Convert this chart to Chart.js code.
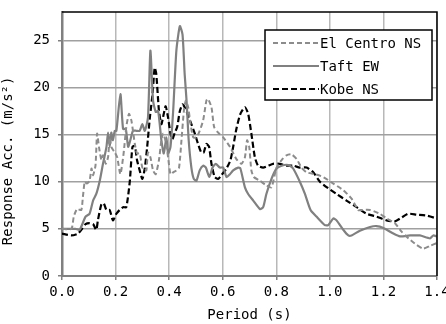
<!DOCTYPE html>
<html><head><meta charset="utf-8">
<script src="https://cdn.jsdelivr.net/npm/chart.js@4/dist/chart.umd.min.js"></script>
<style>html,body{margin:0;padding:0;background:#fff;}#wrap{width:446px;height:324px;}</style>
</head><body><div id="wrap"><canvas id="c" width="446" height="324"></canvas></div>
<script>
const seriesLabels = ["El Centro NS", "Taft EW", "Kobe NS"];
const xTickValues = [0.0, 0.2, 0.4, 0.6, 0.8, 1.0, 1.2, 1.4];
const yTickValues = [0, 5, 10, 15, 20, 25];
const elPeriod = [0.0,0.035,0.044,0.056,0.072,0.078,0.085,0.093,0.103,0.11,0.116,0.125,0.131,0.138,0.147,0.153,0.163,0.172,0.178,0.184,0.197,0.206,0.218,0.23,0.24,0.25,0.259,0.272,0.28,0.29,0.30,0.309,0.315,0.321,0.33,0.34,0.35,0.362,0.371,0.377,0.386,0.396,0.405,0.415,0.427,0.437,0.446,0.455,0.462,0.471,0.48,0.49,0.502,0.514,0.527,0.539,0.545,0.558,0.568,0.583,0.602,0.627,0.651,0.67,0.683,0.691,0.699,0.707,0.716,0.739,0.763,0.782,0.801,0.82,0.838,0.857,0.876,0.894,0.913,0.944,0.975,1.013,1.05,1.081,1.106,1.118,1.15,1.187,1.212,1.243,1.268,1.293,1.324,1.349,1.374,1.4];
const elAcc = [5.0,5.0,6.3,7.1,7.0,8.4,10.0,9.8,10.1,11.4,10.7,11.7,15.1,13.7,12.3,12.8,11.9,12.6,14.7,13.7,13.1,12.6,10.8,13.0,15.8,17.2,16.5,14.0,13.0,13.0,11.5,11.5,11.2,13.1,12.6,11.2,10.8,12.3,14.4,15.1,14.4,12.6,10.8,11.0,11.2,11.5,14.4,17.5,18.6,17.9,16.1,14.7,14.7,15.4,16.5,18.6,18.8,17.9,15.8,15.2,14.7,13.7,12.4,11.9,12.6,14.4,13.7,11.2,10.5,10.1,9.6,9.4,11.5,12.3,12.8,12.9,12.4,11.5,11.0,10.8,10.5,9.8,9.1,8.2,7.0,7.0,7.0,6.6,6.1,5.6,4.7,4.0,3.3,2.9,3.2,3.5];
const taftPeriod = [0.0,0.05,0.066,0.088,0.103,0.116,0.128,0.141,0.153,0.166,0.172,0.178,0.184,0.19,0.197,0.203,0.218,0.228,0.238,0.247,0.255,0.265,0.278,0.29,0.30,0.309,0.321,0.33,0.34,0.35,0.359,0.371,0.38,0.39,0.396,0.405,0.415,0.427,0.44,0.45,0.458,0.465,0.473,0.483,0.492,0.502,0.514,0.527,0.537,0.55,0.562,0.574,0.589,0.602,0.614,0.627,0.639,0.658,0.666,0.683,0.695,0.714,0.739,0.751,0.763,0.782,0.801,0.82,0.838,0.851,0.863,0.888,0.907,0.928,0.95,0.981,0.994,1.013,1.025,1.05,1.069,1.081,1.112,1.15,1.174,1.2,1.237,1.262,1.3,1.336,1.374,1.386,1.4];
const taftAcc = [5.0,5.0,4.9,6.3,6.6,8.0,8.7,10.1,11.9,13.7,15.2,13.7,15.2,14.4,15.4,15.4,19.3,15.6,15.6,13.7,14.4,15.4,15.4,15.4,16.1,15.4,16.8,23.9,18.6,17.4,17.5,14.4,13.0,14.7,13.0,13.7,17.5,23.9,26.5,25.6,21.4,18.6,14.4,11.5,10.3,10.1,11.2,11.7,11.5,10.5,11.5,11.9,11.5,11.5,10.5,10.8,11.2,11.5,11.4,9.4,8.7,8.0,7.1,7.3,8.7,10.3,11.4,11.7,11.8,11.7,11.4,10.0,8.7,7.0,6.3,5.4,5.4,6.1,5.9,4.9,4.3,4.3,4.8,5.2,5.3,5.1,4.5,4.2,4.3,4.3,4.0,4.3,4.2];
const kobePeriod = [0.0,0.035,0.06,0.072,0.088,0.103,0.116,0.128,0.134,0.147,0.156,0.166,0.178,0.19,0.203,0.215,0.228,0.24,0.253,0.263,0.272,0.28,0.29,0.30,0.309,0.318,0.328,0.338,0.346,0.352,0.362,0.371,0.38,0.387,0.396,0.405,0.412,0.421,0.43,0.44,0.45,0.458,0.471,0.483,0.496,0.508,0.52,0.529,0.539,0.549,0.558,0.57,0.583,0.595,0.614,0.629,0.639,0.651,0.666,0.683,0.695,0.707,0.72,0.732,0.751,0.77,0.788,0.813,0.838,0.863,0.888,0.913,0.938,0.963,0.994,1.025,1.062,1.1,1.137,1.174,1.212,1.243,1.262,1.293,1.324,1.362,1.4];
const kobeAcc = [4.5,4.3,4.5,4.9,5.5,5.6,5.5,4.9,5.9,7.6,7.7,7.0,7.0,5.9,6.6,7.0,7.3,7.3,10.0,13.7,13.8,12.3,11.2,10.3,11.4,13.7,16.8,19.3,22.1,21.4,17.5,16.1,17.2,18.0,16.8,15.1,14.5,15.2,15.8,17.5,18.2,17.9,17.0,16.1,15.1,14.0,13.1,13.1,14.0,13.7,11.9,10.5,10.3,10.7,11.4,12.3,13.7,15.6,17.2,17.9,17.2,15.1,12.6,11.7,11.5,11.7,11.9,11.9,11.7,11.7,11.5,11.5,11.0,10.0,9.3,8.7,8.0,7.3,6.6,6.3,5.9,5.8,6.1,6.6,6.5,6.4,6.1];

const toPts = (xs, ys) => xs.map((x, i) => ({x: x, y: ys[i]}));
const FONT = "'DejaVu Sans Mono', 'Liberation Mono', monospace";

const frameLegend = {
  id: 'frameLegend',
  afterDatasetsDraw(chart) {
    const ctx = chart.ctx, a = chart.chartArea;
    ctx.save();
    ctx.setLineDash([]);
    ctx.strokeStyle = '#000';
    ctx.lineWidth = 1.5;
    ctx.beginPath();
    ctx.moveTo(a.left, a.top);
    ctx.lineTo(a.right, a.top);
    ctx.lineTo(a.right, a.bottom);
    ctx.stroke();
    const bx = 265, by = 30, bw = 167, bh = 70;
    ctx.fillStyle = '#fff';
    ctx.fillRect(bx, by, bw, bh);
    ctx.strokeRect(bx, by, bw, bh);
    ctx.font = '14px ' + FONT;
    ctx.textBaseline = 'middle';
    chart.data.datasets.forEach((ds, i) => {
      const yy = by + 13 + i * 23;
      ctx.strokeStyle = ds.borderColor;
      ctx.lineWidth = ds.borderWidth;
      ctx.setLineDash(ds.borderDash || []);
      ctx.beginPath();
      ctx.moveTo(bx + 8, yy);
      ctx.lineTo(bx + 54, yy);
      ctx.stroke();
      ctx.setLineDash([]);
      ctx.fillStyle = '#000';
      ctx.fillText(ds.label, bx + 55, yy + 1);
    });
    ctx.restore();
  }
};

new Chart(document.getElementById('c'), {
  type: 'line',
  data: {
    datasets: [
      {label: seriesLabels[0], data: toPts(elPeriod, elAcc), borderColor: '#8c8c8c', borderWidth: 2, borderDash: [5, 3], pointRadius: 0, fill: false, tension: 0.2},
      {label: seriesLabels[1], data: toPts(taftPeriod, taftAcc), borderColor: '#808080', borderWidth: 2.2, pointRadius: 0, fill: false, tension: 0.2},
      {label: seriesLabels[2], data: toPts(kobePeriod, kobeAcc), borderColor: '#000', borderWidth: 2.2, borderDash: [6, 3], pointRadius: 0, fill: false, tension: 0.2}
    ]
  },
  options: {
    responsive: false,
    animation: false,
    layout: {padding: {top: 12, right: 9, left: 0, bottom: 0}},
    plugins: {legend: {display: false}, tooltip: {enabled: false}},
    scales: {
      x: {
        type: 'linear', min: 0, max: 1.4,
        afterBuildTicks(s) { s.ticks = s.ticks.filter(t => xTickValues.some(v => Math.abs(v - t.value) < 1e-6)); },
        afterFit(s) { s.height = 48; s.paddingLeft = 0; s.paddingRight = 0; },
        ticks: {stepSize: 0.2, font: {family: FONT, size: 14}, color: '#000', padding: 4, maxRotation: 0, autoSkip: false, callback: (v) => Number(v).toFixed(1)},
        grid: {color: '#b8b8b8', lineWidth: 1.5, tickLength: 4, tickColor: '#808080'},
        border: {color: '#808080', width: 2},
        title: {display: true, text: 'Period (s)', font: {family: FONT, size: 14}, color: '#000', padding: {top: 0, bottom: 0}}
      },
      y: {
        type: 'linear', min: 0, max: 28,
        afterBuildTicks(s) { s.ticks = s.ticks.filter(t => yTickValues.includes(t.value)); },
        afterFit(s) { s.width = 62; s.paddingTop = 0; s.paddingBottom = 0; },
        ticks: {stepSize: 5, font: {family: FONT, size: 14}, color: '#000', padding: 8, callback: (v) => String(v)},
        grid: {color: '#a0a0a0', lineWidth: 1.5, tickLength: 4, tickColor: '#808080'},
        border: {color: '#808080', width: 2.5},
        title: {display: true, text: 'Response Acc. (m/s²)    ', font: {family: FONT, size: 14}, color: '#000', padding: {top: 0, bottom: 2}}
      }
    }
  },
  plugins: [frameLegend]
});
</script></body></html>
